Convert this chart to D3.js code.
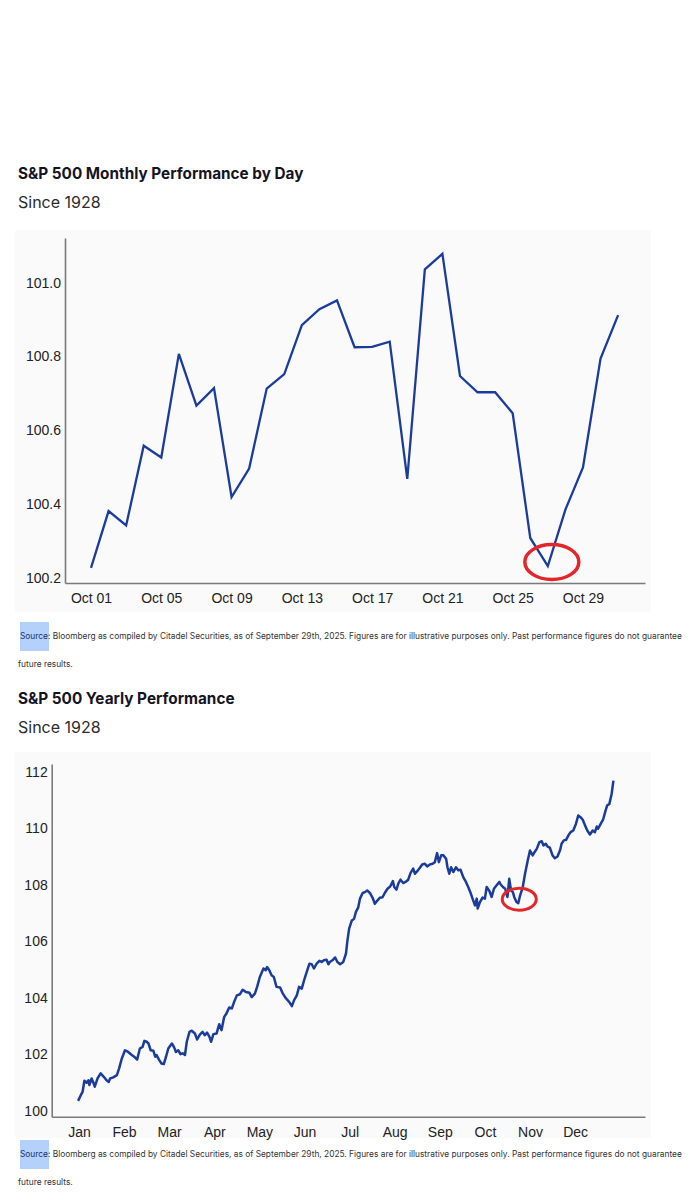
<!DOCTYPE html>
<html>
<head>
<meta charset="utf-8">
<script src="https://cdn.jsdelivr.net/npm/d3@7"></script>
<style>
  body { margin: 0; background: #fff; }
  svg { display: block; }
</style>
</head>
<body>
<div id="chart"></div>
<script>
// ---- data: October by day ----
const monthlyLabels = ["Oct 01","Oct 02","Oct 03","Oct 04","Oct 05","Oct 06","Oct 07","Oct 08","Oct 09","Oct 10",
  "Oct 11","Oct 12","Oct 13","Oct 14","Oct 15","Oct 16","Oct 17","Oct 18","Oct 19","Oct 20",
  "Oct 21","Oct 22","Oct 23","Oct 24","Oct 25","Oct 26","Oct 27","Oct 28","Oct 29","Oct 30","Oct 31"];
const monthlyValues = [100.227, 100.381, 100.342, 100.558, 100.526, 100.807, 100.667, 100.714, 100.419, 100.496,
  100.713, 100.752, 100.885, 100.928, 100.952, 100.825, 100.826, 100.840, 100.468, 101.036,
  101.078, 100.747, 100.703, 100.703, 100.646, 100.308, 100.232, 100.385, 100.499, 100.794, 100.912];
const monthlyTickIdx = [0, 4, 8, 12, 16, 20, 24, 28];
const monthlyYTicks = [100.2, 100.4, 100.6, 100.8, 101.0];

// ---- data: full year (position in months from Jan 1) ----
const yearlyPos = [-0.02,0.04,0.08,0.12,0.17,0.21,0.23,0.28,0.32,0.35,0.41,0.48,0.55,0.61,0.66,0.69,0.76,0.84,0.89,0.95,
  1.02,1.09,1.17,1.24,1.29,1.35,1.41,1.45,1.50,1.54,1.59,1.65,1.69,1.72,1.78,1.83,1.88,1.93,1.98,
  2.06,2.11,2.15,2.20,2.25,2.30,2.35,2.39,2.45,2.50,2.57,2.62,2.68,2.74,2.79,2.84,2.89,2.93,2.98,
  3.05,3.11,3.16,3.22,3.27,3.33,3.39,3.44,3.50,3.57,3.63,3.70,3.78,3.83,3.90,3.95,
  4.01,4.09,4.14,4.17,4.22,4.27,4.32,4.38,4.46,4.52,4.59,4.66,4.72,4.77,4.83,4.88,4.94,4.99,
  5.05,5.11,5.16,5.21,5.27,5.33,5.38,5.43,5.49,5.53,5.56,5.62,5.68,5.73,5.79,5.86,5.92,5.95,5.99,
  6.05,6.10,6.14,6.19,6.23,6.29,6.34,6.39,6.45,6.51,6.56,6.62,6.67,6.73,6.78,6.84,6.90,6.96,6.99,
  7.04,7.08,7.13,7.19,7.24,7.30,7.35,7.41,7.45,7.50,7.56,7.61,7.67,7.72,7.78,7.84,7.89,7.94,7.98,
  8.03,8.08,8.14,8.17,8.21,8.25,8.30,8.36,8.41,8.46,8.52,8.58,8.63,8.69,8.74,8.78,8.82,8.84,8.89,8.95,
  9.00,9.04,9.10,9.15,9.20,9.26,9.32,9.35,9.40,9.45,9.50,9.54,9.58,9.62,9.65,9.70,9.74,9.78,9.84,9.89,9.95,
  10.00,10.06,10.10,10.15,10.21,10.26,10.30,10.35,10.39,10.44,10.50,10.55,10.61,10.67,10.70,10.75,10.80,10.85,10.90,10.96,
  11.02,11.07,11.12,11.17,11.22,11.27,11.33,11.39,11.44,11.48,11.51,11.57,11.62,11.68,11.71,11.76,11.81,11.85,11.91];
const yearlyValues = [100.36,100.56,100.68,101.07,101.00,101.09,100.92,101.15,101.00,100.86,101.15,101.33,101.21,101.09,101.03,101.15,101.19,101.27,101.51,101.86,
  102.15,102.09,101.98,101.90,101.82,102.21,102.27,102.48,102.45,102.39,102.15,102.13,101.92,101.98,101.80,101.68,101.66,101.92,102.21,
  102.39,102.25,102.09,102.15,102.01,102.04,101.98,102.45,102.80,102.84,102.74,102.53,102.70,102.80,102.68,102.77,102.63,102.45,102.72,
  102.74,103.07,102.86,103.33,103.45,103.66,103.63,103.86,104.09,104.13,104.29,104.21,104.18,104.03,104.15,104.39,
  104.74,105.04,104.98,105.09,104.98,104.80,104.74,104.39,104.37,104.15,103.98,103.86,103.71,103.92,104.09,104.39,104.33,104.62,
  104.92,105.21,105.19,105.04,105.21,105.31,105.27,105.33,105.35,105.19,105.27,105.33,105.43,105.27,105.19,105.27,105.57,106.00,106.45,
  106.74,106.80,107.04,107.19,107.51,107.71,107.74,107.80,107.71,107.54,107.33,107.45,107.54,107.56,107.71,107.86,107.94,108.13,
  107.92,107.83,108.04,108.18,108.06,108.10,108.18,108.41,108.57,108.39,108.48,108.60,108.72,108.74,108.65,108.72,108.74,108.80,109.12,
  108.80,109.04,109.04,108.92,108.62,108.39,108.62,108.45,108.62,108.51,108.53,108.27,108.10,107.92,107.68,107.45,107.27,107.51,107.16,107.39,
  107.55,107.51,107.92,107.78,107.57,107.86,107.98,108.10,108.01,107.92,107.86,107.57,108.21,107.80,107.74,107.57,107.39,107.35,107.62,107.92,108.39,
  108.86,109.21,109.04,109.15,109.27,109.51,109.54,109.39,109.45,109.35,109.31,109.04,108.94,109.00,109.24,109.45,109.57,109.59,109.74,109.86,
  109.92,110.16,110.45,110.39,110.30,110.10,109.92,109.78,109.92,109.86,110.06,109.98,110.16,110.30,110.65,110.80,110.86,111.21,111.68];
const monthNames = ["Jan","Feb","Mar","Apr","May","Jun","Jul","Aug","Sep","Oct","Nov","Dec"];
const yearlyYTicks = [100, 102, 104, 106, 108, 110, 112];

const sourceLine1 = ": Bloomberg as compiled by Citadel Securities, as of September 29th, 2025. Figures are for illustrative purposes only. Past performance figures do not guarantee";
const sourceLine2 = "future results.";

const W = 694, H = 1200;
const lineColor = "#1c3c9c";
const axisColor = "#7a7a7a";
const redColor = "#e3262a";

const svg = d3.select("#chart").append("svg").attr("width", W).attr("height", H);
svg.append("rect").attr("width", W).attr("height", H).attr("fill", "#fff");

function heading(title, y) {
  svg.append("text").attr("x", 18).attr("y", y)
    .attr("font-family", "Inter, 'Noto Sans', sans-serif").attr("font-weight", 700)
    .attr("font-size", 15.3).attr("fill", "#14141f").text(title);
  svg.append("text").attr("x", 18).attr("y", y + 29)
    .attr("font-family", "Inter, 'Noto Sans', sans-serif")
    .attr("font-size", 16).attr("fill", "#2b2b2b").text("Since 1928");
}

function source(y) {
  svg.append("rect").attr("x", 20).attr("y", y - 14).attr("width", 29).attr("height", 29).attr("fill", "#b3d1fb");
  const t = svg.append("text").attr("x", 20).attr("y", y + 3)
    .attr("font-family", "Inter, 'Noto Sans', sans-serif").attr("font-size", 8.35).attr("fill", "#333");
  t.append("tspan").attr("fill", "#1d2f6f").text("Source");
  t.append("tspan").text(sourceLine1);
  svg.append("text").attr("x", 18).attr("y", y + 31)
    .attr("font-family", "Inter, 'Noto Sans', sans-serif").attr("font-size", 8.35).attr("fill", "#333")
    .text(sourceLine2);
}

function styleAxis(g) {
  g.select(".domain").attr("stroke", axisColor).attr("stroke-width", 1.6);
  g.selectAll("text").attr("font-family", "'Liberation Sans', Arial, sans-serif")
    .attr("font-size", 14).attr("fill", "#222");
}

// ================= Chart 1: monthly =================
heading("S&P 500 Monthly Performance by Day", 179);
svg.append("rect").attr("x", 15).attr("y", 230).attr("width", 636).attr("height", 382).attr("fill", "#fafafa");

const x1 = d3.scaleLinear().domain([-1.48, 31.53]).range([65, 645]);
const y1 = d3.scaleLinear().domain([100.186, 101.121]).range([583, 238]);

svg.append("g").attr("transform", "translate(0,583)")
  .call(d3.axisBottom(x1).tickValues(monthlyTickIdx).tickFormat(i => monthlyLabels[i]).tickSize(0).tickPadding(10).tickSizeOuter(0))
  .call(styleAxis);
svg.append("g").attr("transform", "translate(65,0)")
  .call(d3.axisLeft(y1).tickValues(monthlyYTicks).tickFormat(d3.format(".1f")).tickSize(0).tickPadding(4).tickSizeOuter(0))
  .call(styleAxis);

svg.append("path").datum(monthlyValues)
  .attr("fill", "none").attr("stroke", lineColor).attr("stroke-width", 2.3).attr("stroke-linejoin", "miter")
  .attr("d", d3.line().x((d, i) => x1(i)).y(d => y1(d)));

// red circle round the Oct 27 low
const lowIdx = d3.minIndex(monthlyValues.slice(20)) + 20;
svg.append("ellipse").attr("cx", x1(lowIdx) + 4).attr("cy", y1(monthlyValues[lowIdx]) - 4)
  .attr("rx", 27).attr("ry", 17.5).attr("fill", "none").attr("stroke", redColor).attr("stroke-width", 3.5);

source(636);

// ================= Chart 2: yearly =================
heading("S&P 500 Yearly Performance", 704);
svg.append("rect").attr("x", 15).attr("y", 752).attr("width", 636).attr("height", 386).attr("fill", "#fafafa");

const x2 = d3.scaleLinear().domain([-0.605, 12.55]).range([51.7, 645]);
const y2 = d3.scaleLinear().domain([99.8, 112.27]).range([1116.7, 764]);

svg.append("g").attr("transform", "translate(0,1116.7)")
  .call(d3.axisBottom(x2).tickValues(d3.range(12)).tickFormat(i => monthNames[i]).tickSize(0).tickPadding(10).tickSizeOuter(0))
  .call(styleAxis);
svg.append("g").attr("transform", "translate(51.7,0)")
  .call(d3.axisLeft(y2).tickValues(yearlyYTicks).tickSize(0).tickPadding(4).tickSizeOuter(0))
  .call(styleAxis);

const yearly = yearlyPos.map((p, i) => ({ p: p, v: yearlyValues[i] }));
svg.append("path").datum(yearly)
  .attr("fill", "none").attr("stroke", lineColor).attr("stroke-width", 2.5).attr("stroke-linejoin", "round")
  .attr("d", d3.line().x(d => x2(d.p)).y(d => y2(d.v)));

// red circle round the late-October dip
const dip = yearly.filter(d => d.p > 9.5 && d.p < 10).reduce((a, b) => (b.v < a.v ? b : a));
svg.append("ellipse").attr("cx", x2(dip.p) + 1).attr("cy", y2(dip.v) - 4)
  .attr("rx", 17).attr("ry", 11).attr("fill", "none").attr("stroke", redColor).attr("stroke-width", 3);

source(1154);
</script>
</body>
</html>
